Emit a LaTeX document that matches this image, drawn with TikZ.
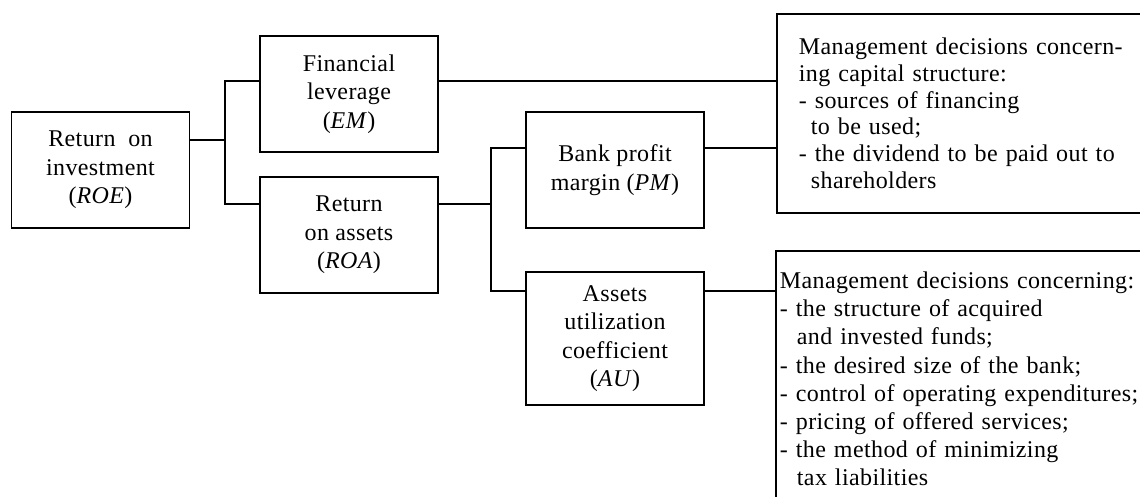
\documentclass[tikz,border=0pt]{standalone}
\usepackage{fontspec}
\setmainfont{Liberation Serif}[LetterSpace=1.6]

\begin{document}
\begin{tikzpicture}[x=1pt,y=1pt,line width=1.8pt,
  ratio/.style={draw,align=center,minimum width=178pt,minimum height=116pt,inner sep=0pt,
    font=\fontsize{24}{28.5}\selectfont},
  decision/.style={draw,align=left,anchor=north west,inner ysep=0pt}]
  \useasboundingbox (0,0) rectangle (1140,-496); \clip (0,0) rectangle (1140,-496);
  % ratio boxes
  \node[ratio] (roe) at (100.5,-170) {Return\ \ on\\investment\\(\textit{ROE})};
  \node[ratio] (em) at (349,-94) {Financial\\leverage\\(\textit{EM})};
  \node[ratio] (roa) at (349,-234.7) {Return\\on assets\\(\textit{ROA})};
  \node[ratio] (pm) at (615,-170) {Bank profit\\margin (\textit{PM})};
  \node[ratio,minimum height=133pt] (au) at (615,-338.7) {Assets\\utilization\\coefficient\\(\textit{AU})};
  % decision boxes, cut off by the right edge
  \node[decision,text width=390pt,inner xsep=22pt,minimum height=199pt,
    font=\fontsize{24}{26.7}\selectfont] (dec1) at (776,-13) {Management decisions concern-\\
    ing capital structure:\\
    - sources of financing\\
    \hspace*{12pt}to be used;\\
    - the dividend to be paid out to\\
    \hspace*{12pt}shareholders};
  \node[decision,text width=420pt,inner xsep=4pt,minimum height=256pt,
    font=\fontsize{24}{28.2}\selectfont] (dec2) at (775,-250) {Management decisions concerning:\\
    - the structure of acquired\\
    \hspace*{17pt}and invested funds;\\
    - the desired size of the bank;\\
    - control of operating expenditures;\\
    - pricing of offered services;\\
    - the method of minimizing\\
    \hspace*{17pt}tax liabilities};
  % levels and buses of the connectors
  \coordinate (lvA) at (0,-140); \coordinate (lvB) at (0,-81); \coordinate (lvC) at (0,-204);
  \coordinate (lvD) at (0,-148); \coordinate (lvE) at (0,-291);
  \coordinate (busL) at (225,0); \coordinate (busR) at (491,0);
  \draw (roe.east |- lvA) -- (busL |- lvA);
  \draw (em.west |- lvB) -| (busL |- lvC) -- (roa.west |- lvC);
  \draw (em.east |- lvB) -- (dec1.west |- lvB);
  \draw (roa.east |- lvC) -- (busR |- lvC);
  \draw (pm.west |- lvD) -| (busR |- lvE) -- (au.west |- lvE);
  \draw (pm.east |- lvD) -- (dec1.west |- lvD);
  \draw (au.east |- lvE) -- (dec2.west |- lvE);
\end{tikzpicture}
\end{document}
